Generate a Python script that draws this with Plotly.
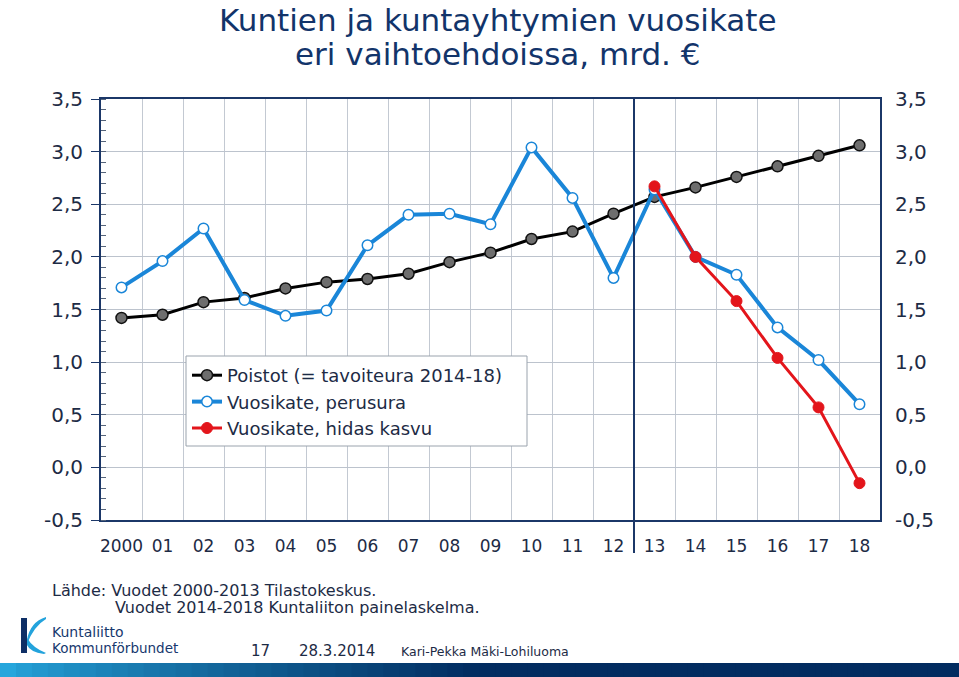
import plotly.graph_objects as go

# ---------------- data ----------------
years = ["2000", "01", "02", "03", "04", "05", "06", "07", "08", "09",
         "10", "11", "12", "13", "14", "15", "16", "17", "18"]
poistot = [1.42, 1.45, 1.57, 1.61, 1.70, 1.76, 1.79, 1.84, 1.95, 2.04,
           2.17, 2.24, 2.41, 2.57, 2.66, 2.76, 2.86, 2.96, 3.06]
perusura = [1.71, 1.96, 2.27, 1.59, 1.44, 1.49, 2.11, 2.40, 2.41, 2.31,
            3.04, 2.56, 1.80, 2.64, 2.00, 1.83, 1.33, 1.02, 0.60]
hidas_kasvu = [None] * 13 + [2.67, 2.00, 1.58, 1.04, 0.57, -0.15]
y_ticks = [-0.5, 0.0, 0.5, 1.0, 1.5, 2.0, 2.5, 3.0, 3.5]
split_pos = 12.5  # boundary between statistics and forecast

series_names = ["Poistot (= tavoiteura 2014-18)",
                "Vuosikate, perusura",
                "Vuosikate, hidas kasvu"]

# ---------------- layout helpers ----------------
W, H = 959, 677
L, R, T, B = 101, 880, 99, 520
def px(x):
    return (x - L) / (R - L)
def py(y):
    return (B - y) / (B - T)

NAVY = "#1b3768"
TXT = "#1d2b45"
FONT = "DejaVu Sans"
xs = list(range(len(years)))

fig = go.Figure()
fig.add_trace(go.Scatter(
    x=xs, y=poistot, name=series_names[0], mode="lines+markers",
    line=dict(color="#000000", width=3),
    marker=dict(size=11, color="#6e6e6e", line=dict(color="#111111", width=1.5))))
fig.add_trace(go.Scatter(
    x=xs, y=perusura, name=series_names[1], mode="lines+markers",
    line=dict(color="#1a86d8", width=4),
    marker=dict(size=10.5, color="#ffffff", line=dict(color="#1a86d8", width=1.5))))
fig.add_trace(go.Scatter(
    x=xs, y=hidas_kasvu, name=series_names[2], mode="lines+markers",
    line=dict(color="#e3151b", width=3),
    marker=dict(size=11, color="#e3151b", line=dict(color="#e3151b", width=1))))
# invisible trace for right axis
fig.add_trace(go.Scatter(x=[0], y=[0], yaxis="y2", showlegend=False,
                         mode="markers", marker=dict(opacity=0), hoverinfo="skip"))

shapes = []
# legend frame (drawn as a shape so it can be wider than the entries)
shapes.append(dict(type="rect", xref="paper", yref="paper", layer="above",
                   x0=px(186), x1=px(527), y0=py(446), y1=py(356),
                   line=dict(color="#9aa3ad", width=1), fillcolor="white"))
# separator line
shapes.append(dict(type="line", xref="x", yref="paper", x0=split_pos, x1=split_pos,
                   y0=py(553), y1=1, line=dict(color=NAVY, width=2)))
# bottom gradient band
N = 60
c0 = (38, 166, 220)
c1 = (2, 44, 96)
for i in range(N):
    t = i / (N - 1)
    k = min(1.0, (t / 0.5) ** 0.8)
    col = tuple(int(c0[j] + (c1[j] - c0[j]) * k) for j in range(3))
    x0 = i * W / N
    x1 = (i + 1) * W / N + 1
    shapes.append(dict(type="rect", xref="paper", yref="paper", layer="above",
                       x0=px(x0), x1=px(x1), y0=py(678), y1=py(663),
                       line=dict(width=0), fillcolor="rgb(%d,%d,%d)" % col))
# logo: navy bar + cyan arms
shapes.append(dict(type="rect", xref="paper", yref="paper", x0=px(21), x1=px(27),
                   y0=py(653), y1=py(618), line=dict(width=0), fillcolor="#0e2f66"))
shapes.append(dict(type="path", xref="paper", yref="paper",
                   path="M %f,%f Q %f,%f %f,%f L %f,%f Q %f,%f %f,%f Z" % (
                       px(27), py(640), px(30), py(622), px(46), py(617),
                       px(46), py(619), px(34), py(626), px(27), py(644)),
                   line=dict(width=0), fillcolor="#23a3dc"))
shapes.append(dict(type="path", xref="paper", yref="paper",
                   path="M %f,%f Q %f,%f %f,%f L %f,%f Q %f,%f %f,%f Z" % (
                       px(27), py(638), px(33), py(648), px(46), py(653),
                       px(44), py(654), px(30), py(652), px(27), py(645)),
                   line=dict(width=0), fillcolor="#23a3dc"))

title_font = dict(family=FONT, size=31, color="#12346a")
annotations = [
    dict(text="Kuntien ja kuntayhtymien vuosikate",
         xref="paper", yref="paper", x=px(498), y=py(0), xanchor="center", yanchor="top",
         showarrow=False, font=title_font),
    dict(text="eri vaihtoehdoissa, mrd. €",
         xref="paper", yref="paper", x=px(498), y=py(34), xanchor="center", yanchor="top",
         showarrow=False, font=title_font),
    dict(text="Lähde: Vuodet 2000-2013 Tilastokeskus.", xref="paper", yref="paper",
         x=px(50), y=py(590), xanchor="left", yanchor="middle", showarrow=False,
         font=dict(family=FONT, size=16, color=TXT)),
    dict(text="Vuodet 2014-2018 Kuntaliiton painelaskelma.", xref="paper", yref="paper",
         x=px(113), y=py(607), xanchor="left", yanchor="middle", showarrow=False,
         font=dict(family=FONT, size=16, color=TXT)),
    dict(text="17", xref="paper", yref="paper", x=px(249), y=py(651),
         xanchor="left", yanchor="middle", showarrow=False,
         font=dict(family=FONT, size=15, color=TXT)),
    dict(text="28.3.2014", xref="paper", yref="paper", x=px(297), y=py(651),
         xanchor="left", yanchor="middle", showarrow=False,
         font=dict(family=FONT, size=15, color=TXT)),
    dict(text="Kari-Pekka Mäki-Lohiluoma", xref="paper", yref="paper", x=px(399), y=py(651),
         xanchor="left", yanchor="middle", showarrow=False,
         font=dict(family=FONT, size=12.5, color=TXT)),
    dict(text="Kuntaliitto", xref="paper", yref="paper", x=px(50), y=py(632),
         xanchor="left", yanchor="middle", showarrow=False,
         font=dict(family=FONT, size=14, color="#16386e")),
    dict(text="Kommunförbundet", xref="paper", yref="paper", x=px(50), y=py(648),
         xanchor="left", yanchor="middle", showarrow=False,
         font=dict(family=FONT, size=13.5, color="#16386e")),
]

tick_txt = [("%.1f" % v).replace(".", ",") for v in y_ticks]
yaxis_common = dict(range=[-0.5, 3.5], tickvals=y_ticks, ticktext=tick_txt,
                    tickfont=dict(family=FONT, size=20, color=TXT),
                    zeroline=False, fixedrange=True)

fig.update_layout(
    width=W, height=H,
    margin=dict(l=L, r=W - R, t=T, b=H - B, autoexpand=False),
    paper_bgcolor="white", plot_bgcolor="white",
    showlegend=True,
    legend=dict(x=px(187), y=py(357), xanchor="left", yanchor="top",
                bgcolor="rgba(0,0,0,0)", borderwidth=0,
                font=dict(family=FONT, size=18, color=TXT),
                itemwidth=30, tracegroupgap=0),
    xaxis=dict(range=[-0.5, 18.5], tickvals=xs, ticktext=years,
               tickfont=dict(family=FONT, size=17, color=TXT),
               showgrid=False, zeroline=False, ticks="", ticklabelstandoff=10,
               showline=True, linecolor=NAVY, linewidth=2, mirror=True,
               minor=dict(tickvals=[i + 0.5 for i in range(18)], showgrid=True,
                          gridcolor="#c3c9d2", gridwidth=1, ticks=""),
               fixedrange=True),
    yaxis=dict(**yaxis_common, side="left", showgrid=True, gridcolor="#bcc3cd", gridwidth=1,
               showline=True, linecolor=NAVY, linewidth=2, mirror=True,
               ticks="outside", ticklen=8, tickcolor=NAVY, ticklabelstandoff=4,
               minor=dict(dtick=0.1, ticks="inside", ticklen=5, tickcolor="#55647a",
                          showgrid=False)),
    yaxis2=dict(**yaxis_common, side="right", overlaying="y", showgrid=False,
                showline=False, ticks="", ticklabelstandoff=14),
    shapes=shapes,
    annotations=annotations,
)

fig.write_html("out.html", config={"displayModeBar": False},
               post_script="document.body.style.margin='0';document.body.style.overflow='hidden';")
